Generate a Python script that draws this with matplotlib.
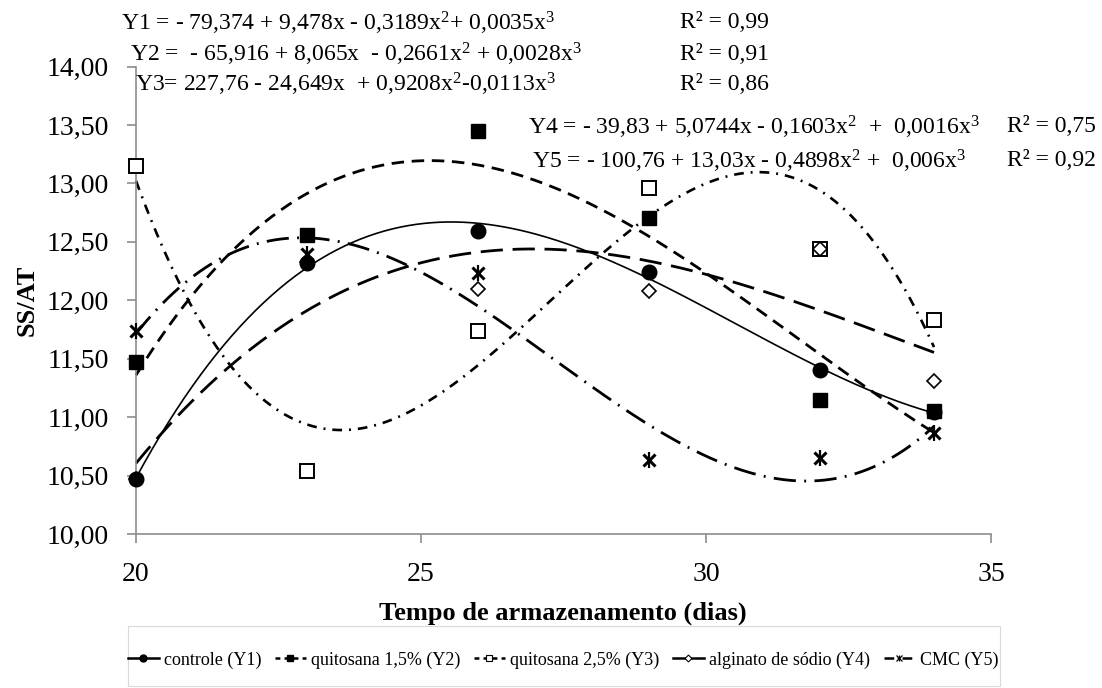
import numpy as np
import matplotlib
matplotlib.use("Agg")
import matplotlib.pyplot as plt
from matplotlib.lines import Line2D
from matplotlib.patches import Rectangle
from matplotlib.ticker import FuncFormatter, FixedLocator

plt.rcParams['font.family'] = ['Liberation Serif', 'DejaVu Serif']
plt.rcParams['lines.scale_dashes'] = False
plt.rcParams['mathtext.fontset'] = 'custom'
plt.rcParams['mathtext.rm'] = 'Liberation Serif'
plt.rcParams['mathtext.it'] = 'Liberation Serif'

# ---- data ----
dias = [20, 23, 26, 29, 32, 34]
controle = [10.47, 12.32, 12.59, 12.24, 11.40, 11.04]
quitosana15 = [11.47, 12.56, 13.45, 12.70, 11.15, 11.05]
quitosana25 = [13.15, 10.54, 11.74, 12.96, 12.44, 11.83]
alginato = [10.47, 12.33, 12.10, 12.08, 12.44, 11.31]
cmc = [11.74, 12.40, 12.23, 10.63, 10.65, 10.86]

labels = ["controle (Y1)", "quitosana 1,5% (Y2)", "quitosana 2,5% (Y3)",
          "alginato de sódio (Y4)", "CMC (Y5)"]
equations = [
    "Y1 = - 79,374 + 9,478x - 0,3189x$^{2}$+ 0,0035x$^{3}$",
    "Y2 =  - 65,916 + 8,065x  - 0,2661x$^{2}$ + 0,0028x$^{3}$",
    "Y3= 227,76 - 24,649x  + 0,9208x$^{2}$-0,0113x$^{3}$",
    "Y4 = - 39,83 + 5,0744x - 0,1603x$^{2}$  +  0,0016x$^{3}$",
    "Y5 = - 100,76 + 13,03x - 0,4898x$^{2}$ +  0,006x$^{3}$",
]
r2 = ["R² = 0,99", "R² = 0,91", "R² = 0,86", "R² = 0,75", "R² = 0,92"]
xticks = [20, 25, 30, 35]
yticks = [10.0, 10.5, 11.0, 11.5, 12.0, 12.5, 13.0, 13.5, 14.0]

W, H = 1102, 688
fig = plt.figure(figsize=(W / 100, H / 100), dpi=100)
ax = fig.add_axes([136 / W, 1 - 534 / H, (991 - 136) / W, (534 - 66.5) / H])

series = [controle, quitosana15, quitosana25, alginato, cmc]
line_styles = [
    dict(ls='-', lw=1.2),
    dict(ls=(0, (9.0, 5.5)), lw=2.0),
    dict(ls=(0, (7.0, 5.0, 1.4, 5.0)), lw=1.9),
    dict(ls=(0, (16.0, 7.0)), lw=2.0),
    dict(ls=(0, (16.0, 6.0, 1.4, 6.0)), lw=2.0),
]

xs = np.linspace(min(dias), max(dias), 300)
for s, st in zip(series, line_styles):
    coef = np.polyfit(dias, s, 3)
    ax.plot(xs, np.polyval(coef, xs), color='black', linestyle=st['ls'],
            linewidth=st['lw'], dash_capstyle='butt', zorder=2, clip_on=False)

# markers
ax.plot(dias, controle, 'o', color='black', markersize=10.5, zorder=3, clip_on=False)
ax.plot(dias, quitosana15, 's', color='black', markersize=10.5, zorder=4, clip_on=False)
ax.plot(dias, quitosana25, 's', markerfacecolor='white', markeredgecolor='black',
        markeredgewidth=1.4, markersize=10, zorder=5, clip_on=False)
ax.plot(dias, alginato, 'D', markerfacecolor='none', markeredgecolor='black',
        markeredgewidth=1.2, markersize=6.8, zorder=6, clip_on=False)
ax.plot(dias, cmc, 'x', color='black', markersize=9, markeredgewidth=2.2, zorder=7,
        clip_on=False)
ax.plot(dias, cmc, '|', color='black', markersize=11, markeredgewidth=1.6, zorder=7,
        clip_on=False)

ax.set_xlim(20, 35)
ax.set_ylim(10, 14)
ax.xaxis.set_major_locator(FixedLocator(xticks))
ax.yaxis.set_major_locator(FixedLocator(yticks))
ax.yaxis.set_major_formatter(FuncFormatter(lambda v, p: f"{v:.2f}".replace('.', ',')))

for side in ['top', 'right']:
    ax.spines[side].set_visible(False)
for side in ['left', 'bottom']:
    ax.spines[side].set_color('#8c8c8c')
    ax.spines[side].set_linewidth(1.2)
ax.tick_params(axis='both', direction='out', length=6.5, width=1.2, color='#8c8c8c',
               labelsize=20)
ax.tick_params(axis='x', pad=14)
ax.tick_params(axis='y', pad=13)

fig.text(563 / W, 1 - 613 / H, "Tempo de armazenamento (dias)", fontsize=19,
         fontweight='bold', ha='center', va='center')
fig.text(27 / W, 1 - 300 / H, "SS/AT", fontsize=19, fontweight='bold',
         ha='center', va='center', rotation=90)

# equations
eq_pos = [(121, 23), (130, 54), (135, 84), (528, 127), (532, 161)]
r2_pos = [(680, 23), (680, 54), (680, 84), (1007, 127), (1007, 161)]
for (ex, ey), txt in zip(eq_pos, equations):
    fig.text(ex / W, 1 - ey / H, txt, fontsize=17, va='center', ha='left')
for (rx, ry), txt in zip(r2_pos, r2):
    fig.text(rx / W, 1 - ry / H, txt, fontsize=17, va='center', ha='left')

# legend
h1 = Line2D([], [], color='black', ls='-', lw=1.8, marker='o', markersize=5)
h2 = Line2D([], [], color='black', ls=(0, (3.5, 3.0)), lw=1.8, marker='s', markersize=5)
h3 = Line2D([], [], color='black', ls=(0, (3.5, 3.0)), lw=1.8, marker='s',
            markerfacecolor='white', markersize=5, markeredgewidth=0.8)
h4 = Line2D([], [], color='black', ls='-', lw=1.8, marker='D', markerfacecolor='white',
            markersize=3.5, markeredgewidth=0.8)
h5a = Line2D([], [], color='black', ls=(0, (7.0, 2.5, 1.0, 2.5)), lw=1.8, marker='x',
             markersize=4, markeredgewidth=0.9)
h5b = Line2D([], [], color='none', ls='none', marker='|', markersize=5,
             markeredgecolor='black', markeredgewidth=0.9)
leg = fig.legend([h1, h2, h3, h4, (h5a, h5b)], labels, loc='center',
                 bbox_to_anchor=(563 / W, 1 - 660 / H), ncol=5, fontsize=13,
                 handlelength=1.7, handletextpad=0.3, columnspacing=0.75,
                 frameon=False)

fig.patches.append(Rectangle((128 / W, 1 - 686 / H), (1000 - 128) / W, (686 - 626) / H,
                             transform=fig.transFigure, fill=False,
                             edgecolor='#d9d9d9', linewidth=0.8))

fig.savefig("out.png", dpi=100)
